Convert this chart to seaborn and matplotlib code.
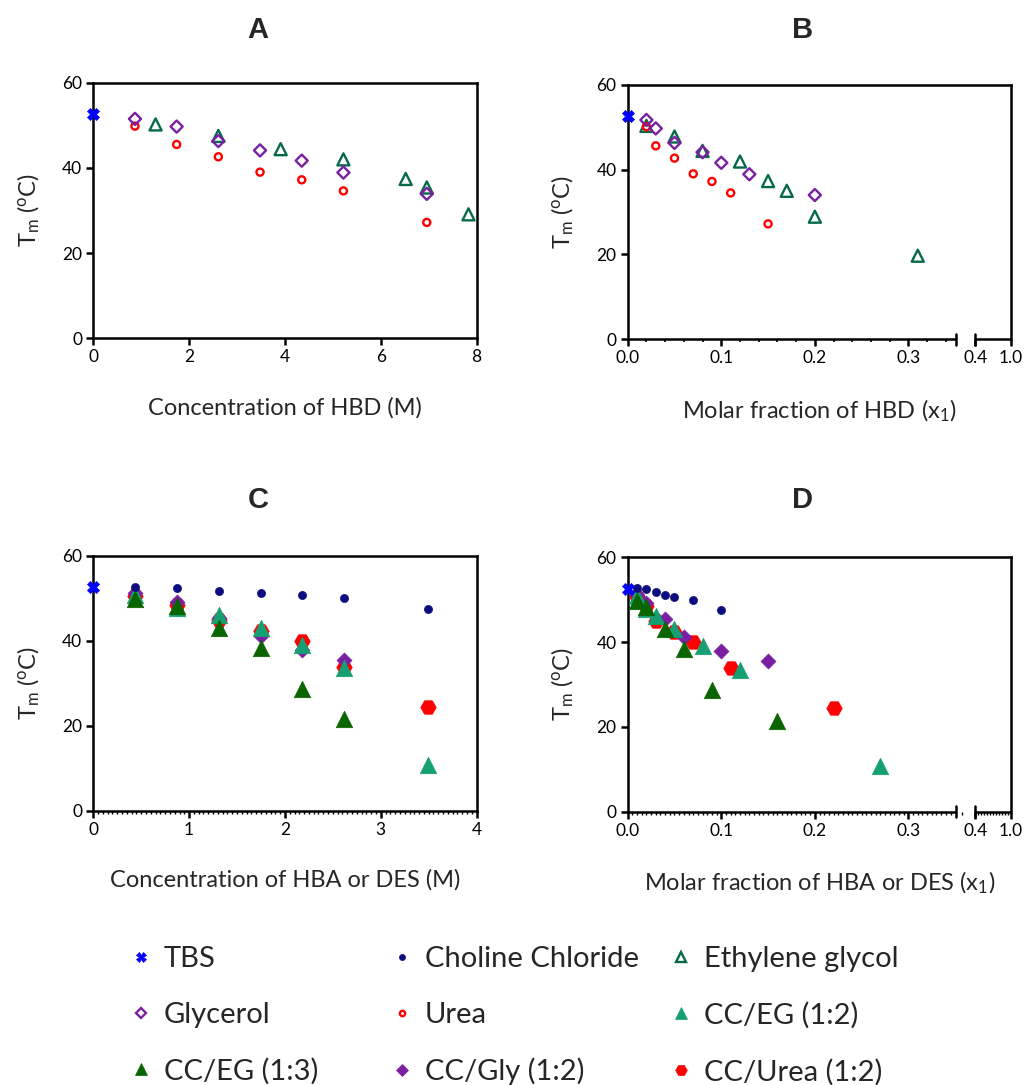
import numpy as np
import pandas as pd
import matplotlib
matplotlib.use("Agg")
import matplotlib.pyplot as plt
from matplotlib.lines import Line2D
from matplotlib.ticker import FixedLocator, NullLocator
import seaborn as sns

sns.set_style("ticks")
plt.rcParams['font.family'] = ['Lato', 'DejaVu Sans']
plt.rcParams['mathtext.fontset'] = 'custom'
plt.rcParams['mathtext.rm'] = 'Lato'
plt.rcParams['mathtext.it'] = 'Lato'

# ---------------- data ----------------
tbs_x = [0.0]
tbs_y = [52.6]

# Panel A: concentration of HBD (M)
a_gly_x = [0.87, 1.74, 2.61, 3.48, 4.35, 5.22, 6.96]
a_gly_y = [51.5, 49.7, 46.3, 44.1, 41.7, 38.9, 33.9]
a_urea_x = [0.87, 1.74, 2.61, 3.48, 4.35, 5.22, 6.96]
a_urea_y = [49.8, 45.5, 42.6, 39.0, 37.2, 34.6, 27.2]
a_eg_x = [1.30, 2.61, 3.91, 5.22, 6.52, 6.96, 7.83]
a_eg_y = [50.2, 47.5, 44.4, 42.0, 37.4, 35.4, 29.1]

# Panel B: molar fraction of HBD
b_gly_x = [0.02, 0.03, 0.05, 0.08, 0.10, 0.13, 0.20]
b_gly_y = [51.7, 49.7, 46.3, 44.1, 41.6, 38.9, 34.0]
b_urea_x = [0.02, 0.03, 0.05, 0.07, 0.09, 0.11, 0.15]
b_urea_y = [50.1, 45.6, 42.7, 39.0, 37.2, 34.5, 27.2]
b_eg_x = [0.02, 0.05, 0.08, 0.12, 0.15, 0.17, 0.20, 0.31]
b_eg_y = [50.3, 47.8, 44.4, 41.9, 37.3, 35.0, 28.9, 19.7]

# Panel C: concentration of HBA or DES (M)
c_cc_x = [0.44, 0.87, 1.31, 1.75, 2.18, 2.62, 3.49]
c_cc_y = [52.8, 52.5, 51.8, 51.2, 50.7, 50.0, 47.5]
c_gly_x = [0.44, 0.87, 1.31, 1.75, 2.18, 2.62]
c_gly_y = [51.2, 49.1, 45.5, 41.2, 37.9, 35.5]
c_urea_x = [0.44, 0.87, 1.31, 1.75, 2.18, 2.62, 3.49]
c_urea_y = [50.6, 48.5, 44.9, 42.4, 40.0, 33.8, 24.5]
c_eg12_x = [0.44, 0.87, 1.31, 1.75, 2.18, 2.62, 3.49]
c_eg12_y = [50.8, 47.7, 46.1, 43.0, 39.0, 33.5, 10.8]
c_eg13_x = [0.44, 0.87, 1.31, 1.75, 2.18, 2.62]
c_eg13_y = [49.8, 48.2, 43.1, 38.3, 28.6, 21.5]

# Panel D: molar fraction of HBA or DES
d_cc_x = [0.01, 0.02, 0.03, 0.04, 0.05, 0.07, 0.10]
d_cc_y = [52.8, 52.5, 51.8, 51.2, 50.7, 50.0, 47.5]
d_gly_x = [0.01, 0.02, 0.04, 0.06, 0.10, 0.15]
d_gly_y = [51.2, 49.1, 45.5, 41.2, 37.9, 35.5]
d_urea_x = [0.01, 0.02, 0.03, 0.05, 0.07, 0.11, 0.22]
d_urea_y = [50.6, 48.5, 44.9, 42.4, 40.0, 33.8, 24.5]
d_eg12_x = [0.01, 0.02, 0.03, 0.05, 0.08, 0.12, 0.27]
d_eg12_y = [50.8, 47.7, 46.1, 43.0, 39.0, 33.5, 10.8]
d_eg13_x = [0.01, 0.02, 0.04, 0.06, 0.09, 0.16]
d_eg13_y = [49.8, 48.2, 43.1, 38.3, 28.6, 21.5]

labels = ["TBS", "Choline Chloride", "Ethylene glycol", "Glycerol", "Urea",
          "CC/EG (1:2)", "CC/EG (1:3)", "CC/Gly (1:2)", "CC/Urea (1:2)"]

# ---------------- styles ----------------
C_BLUE = "#0000ff"
C_NAVY = "#0d0d80"
C_EG = "#07694a"
C_PURPLE = "#7a1fa2"
C_RED = "#ff0000"
C_EG12 = "#14a072"
C_EG13 = "#0a6400"

styles = {
    "TBS": dict(marker="X", s=75, color=C_BLUE, edgecolor=C_BLUE, linewidth=0.5),
    "Choline Chloride": dict(marker="o", s=34, color=C_NAVY, edgecolor=C_NAVY, linewidth=0.5),
    "Ethylene glycol": dict(marker="^", s=75, facecolor="none", edgecolor=C_EG, linewidth=1.7),
    "Glycerol": dict(marker="D", s=38, facecolor="none", edgecolor=C_PURPLE, linewidth=1.7),
    "Urea": dict(marker="o", s=26, facecolor="none", edgecolor=C_RED, linewidth=1.7),
    "CC/EG (1:2)": dict(marker="^", s=140, color=C_EG12, edgecolor=C_EG12, linewidth=0.5),
    "CC/EG (1:3)": dict(marker="^", s=140, color=C_EG13, edgecolor=C_EG13, linewidth=0.5),
    "CC/Gly (1:2)": dict(marker="D", s=58, color=C_PURPLE, edgecolor=C_PURPLE, linewidth=0.5),
    "CC/Urea (1:2)": dict(marker="H", s=125, color=C_RED, edgecolor=C_RED, linewidth=0.5),
}

def draw(ax, x, y, name, z=3):
    df = pd.DataFrame({"x": x, "y": y})
    sns.scatterplot(data=df, x="x", y="y", ax=ax, clip_on=False, zorder=z,
                    legend=False, **styles[name])

# ---------------- broken x scale ----------------
BRK = 0.351
bp_in = np.array([0.0, BRK, 0.4, 1.0])
bp_out = np.array([0.0, BRK, 0.3714, 0.4097])

def fwd(x):
    return np.interp(np.asarray(x, dtype=float), bp_in, bp_out)

def inv(x):
    return np.interp(np.asarray(x, dtype=float), bp_out, bp_in)

fig = plt.figure(figsize=(10.25, 10.85), dpi=100)

W = 0.374
axA = fig.add_axes([0.091, 0.6882, W, 0.2356])
axB = fig.add_axes([0.6124, 0.6873, W, 0.2346])
axC = fig.add_axes([0.091, 0.2528, W, 0.2348])
axD = fig.add_axes([0.6124, 0.2519, W, 0.2345])

SP_W = 1.8
TICK_FS = 12.5
LAB_FS = 17

def base(ax):
    for s in ax.spines.values():
        s.set_linewidth(SP_W)
        s.set_color("black")
    ax.set_ylim(0, 60)
    ax.set_yticks([0, 20, 40, 60])
    ax.tick_params(axis="both", which="major", direction="out", length=5,
                   width=SP_W, labelsize=TICK_FS, colors="black", pad=3)
    ax.tick_params(axis="both", which="minor", direction="out", length=2.5,
                   width=1.2, colors="black")
    ax.yaxis.set_minor_locator(NullLocator())
    ax.set_ylabel(r"T$_\mathregular{m}$ ($^\mathregular{o}$C)", fontsize=LAB_FS)
    ax.yaxis.set_label_coords(-0.135, 0.5)
    ax.xaxis.set_label_coords(0.5, -0.23)

def broken(ax):
    ax.set_xscale("function", functions=(fwd, inv))
    ax.set_xlim(0, 1.0)
    ax.set_xticks([0.0, 0.1, 0.2, 0.3, 0.4, 1.0])
    ax.set_xticklabels(["0.0", "0.1", "0.2", "0.3", "0.4", "1.0"])
    ax.spines["bottom"].set_visible(False)
    tr = ax.get_xaxis_transform()
    ax.plot([0, BRK], [0, 0], color="black", lw=SP_W, transform=tr, clip_on=False,
            solid_capstyle="butt", zorder=5)
    ax.plot([0.4, 1.0], [0, 0], color="black", lw=SP_W, transform=tr, clip_on=False,
            solid_capstyle="butt", zorder=5)
    for xb in [BRK, 0.4]:
        ax.plot([xb, xb], [-0.022, 0.022], color="black", lw=SP_W, transform=tr,
                clip_on=False, zorder=5)

# Panel A
base(axA)
draw(axA, a_eg_x, a_eg_y, "Ethylene glycol")
draw(axA, a_urea_x, a_urea_y, "Urea")
draw(axA, a_gly_x, a_gly_y, "Glycerol")
draw(axA, tbs_x, tbs_y, "TBS", z=5)
axA.set_xlim(0, 8)
axA.set_xticks([0, 2, 4, 6, 8])
axA.xaxis.set_minor_locator(NullLocator())
axA.set_xlabel("Concentration of HBD (M)", fontsize=LAB_FS)

# Panel B
base(axB)
broken(axB)
draw(axB, b_eg_x, b_eg_y, "Ethylene glycol")
draw(axB, b_urea_x, b_urea_y, "Urea")
draw(axB, b_gly_x, b_gly_y, "Glycerol")
draw(axB, tbs_x, tbs_y, "TBS", z=5)
axB.xaxis.set_minor_locator(FixedLocator([v for v in np.arange(0.02, 0.35, 0.02)
                                          if abs(v * 10 - round(v * 10)) > 1e-6]))
axB.set_xlabel(r"Molar fraction of HBD (x$_\mathregular{1}$)", fontsize=LAB_FS)

# Panel C
base(axC)
draw(axC, c_urea_x, c_urea_y, "CC/Urea (1:2)")
draw(axC, c_gly_x, c_gly_y, "CC/Gly (1:2)")
draw(axC, c_eg12_x, c_eg12_y, "CC/EG (1:2)")
draw(axC, c_eg13_x, c_eg13_y, "CC/EG (1:3)")
draw(axC, c_cc_x, c_cc_y, "Choline Chloride")
draw(axC, tbs_x, tbs_y, "TBS", z=5)
axC.set_xlim(0, 4)
axC.set_xticks([0, 1, 2, 3, 4])
axC.xaxis.set_minor_locator(FixedLocator(np.arange(0.05, 4.0, 0.05)))
axC.tick_params(axis="x", which="minor", length=2, width=1.0)
axC.set_xlabel("Concentration of HBA or DES (M)", fontsize=LAB_FS)

# Panel D
base(axD)
broken(axD)
draw(axD, d_urea_x, d_urea_y, "CC/Urea (1:2)")
draw(axD, d_gly_x, d_gly_y, "CC/Gly (1:2)")
draw(axD, d_eg12_x, d_eg12_y, "CC/EG (1:2)")
draw(axD, d_eg13_x, d_eg13_y, "CC/EG (1:3)")
draw(axD, d_cc_x, d_cc_y, "Choline Chloride")
draw(axD, tbs_x, tbs_y, "TBS", z=5)
axD.xaxis.set_minor_locator(FixedLocator(list(np.arange(0.005, 0.35, 0.005)) +
                                         [0.365] + list(np.arange(0.45, 1.0, 0.05))))
axD.tick_params(axis="x", which="minor", length=2, width=1.0)
axD.set_xlabel(r"Molar fraction of HBA or DES (x$_\mathregular{1}$)", fontsize=LAB_FS)

# Panel letters
for (px, py, t) in [(258, 30, "A"), (803, 30, "B"), (258, 500, "C"), (803, 500, "D")]:
    fig.text(px / 1025, 1 - py / 1085, t, fontsize=21, fontweight="bold",
             family="Liberation Sans", ha="center", va="center")

# Legend: three columns laid out row-wise
def handle(name):
    st = styles[name]
    fc = st.get("facecolor", st.get("color"))
    return Line2D([], [], linestyle="none", marker=st["marker"],
                  markersize=np.sqrt(st["s"]) * 0.75,
                  markerfacecolor=fc, markeredgecolor=st["edgecolor"],
                  markeredgewidth=st["linewidth"])

cols = [[labels[0], labels[3], labels[6]],
        [labels[1], labels[4], labels[7]],
        [labels[2], labels[5], labels[8]]]
col_x = [129, 390, 669]
for names, cx in zip(cols, col_x):
    fig.legend(handles=[handle(n) for n in names], labels=names,
               loc="upper left", bbox_to_anchor=(cx / 1025, 1 - 946 / 1085),
               frameon=False, fontsize=21, handlelength=0.8, handletextpad=0.4,
               labelspacing=1.02, borderpad=0, borderaxespad=0)

fig.savefig("out.png", dpi=100)
